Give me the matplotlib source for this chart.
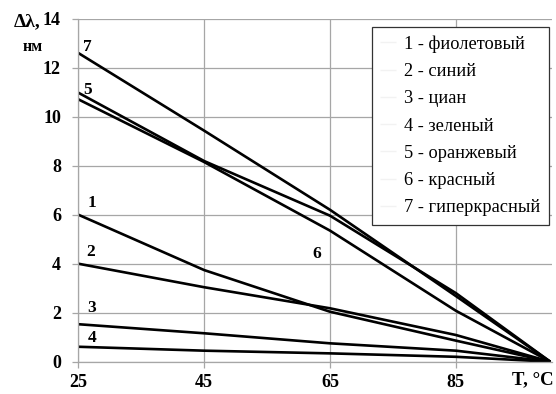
import matplotlib
matplotlib.use("Agg")
import matplotlib.pyplot as plt

T = [25, 45, 65, 85, 100]
s1 = [6.0, 3.74, 2.04, 0.86, 0.0]
s2 = [4.0, 3.04, 2.18, 1.09, 0.0]
s3 = [1.53, 1.16, 0.75, 0.45, 0.0]
s4 = [0.61, 0.45, 0.34, 0.20, 0.0]
s5 = [10.98, 8.19, 5.96, 2.80, 0.0]
s6 = [10.71, 8.15, 5.35, 2.08, 0.0]
s7 = [12.6, 9.43, 6.2, 2.68, 0.0]
series = [s1, s2, s3, s4, s5, s6, s7]
labels = ["1 - фиолетовый", "2 - синий", "3 - циан", "4 - зеленый",
          "5 - оранжевый", "6 - красный", "7 - гиперкрасный"]
num_labels = ["1", "2", "3", "4", "5", "6", "7"]
num_pos = [(27.1, 6.47), (27.0, 4.49), (27.1, 2.18), (27.2, 0.98),
           (26.4, 11.1), (62.9, 4.4), (26.4, 12.85)]
xticks = [25, 45, 65, 85]
yticks = [0, 2, 4, 6, 8, 10, 12, 14]

serif = "Liberation Serif"
W, H = 556, 394
fig = plt.figure(figsize=(W / 100, H / 100), dpi=100)
ax = fig.add_axes([78.3 / W, 1 - 361.7 / H, (551.5 - 78.3) / W, (361.7 - 18.7) / H])

grid_c = "#a6a6a6"
for s, lab in zip(series, labels):
    ax.plot(T, s, color="black", lw=1.9, label=lab, solid_capstyle="butt")

for t, (x, y) in zip(num_labels, num_pos):
    ax.text(x, y, t, family=serif, fontweight="bold", fontsize=12.5,
            ha="center", va="center")

ax.set_xlim(25, 100.2)
ax.set_ylim(0, 14)
ax.set_xticks(xticks)
ax.set_yticks(yticks)
ax.grid(True, color=grid_c, lw=0.9)
ax.set_axisbelow(True)
for sp in ["top", "right"]:
    ax.spines[sp].set_visible(False)
for sp in ["left", "bottom"]:
    ax.spines[sp].set_color(grid_c)
    ax.spines[sp].set_linewidth(0.9)
ax.tick_params(axis="both", colors=grid_c, length=4.5, width=0.9, direction="out")
ax.tick_params(axis="y", pad=8)
ax.tick_params(axis="x", pad=4.5)
for lbl in ax.get_xticklabels() + ax.get_yticklabels():
    lbl.set_family(serif)
    lbl.set_fontweight("bold")
    lbl.set_fontsize(13)
    lbl.set_color("black")

fig.text(27 / W, 1 - 22 / H, "Δλ,", family=serif, fontweight="bold",
         fontsize=14, ha="center", va="center")
fig.text(33 / W, 1 - 47 / H, "нм", family=serif, fontweight="bold",
         fontsize=11.5, ha="center", va="center")
fig.text(533 / W, 1 - 380 / H, "T, °C", family=serif, fontweight="bold",
         fontsize=13.5, ha="center", va="center")

leg = ax.legend(loc="upper right", bbox_to_anchor=(549 / W, 1 - 27 / H),
                bbox_transform=fig.transFigure, borderaxespad=0,
                prop={"family": serif, "size": 13.2}, fancybox=False,
                framealpha=1, edgecolor="#333333", handlelength=0.9,
                handletextpad=0.45, labelspacing=0.56, borderpad=0.45)
leg.get_frame().set_linewidth(0.9)
for ln in leg.get_lines():
    ln.set_color("#f2f2f2")
    ln.set_linewidth(1.0)

fig.savefig("out.png", dpi=100)
